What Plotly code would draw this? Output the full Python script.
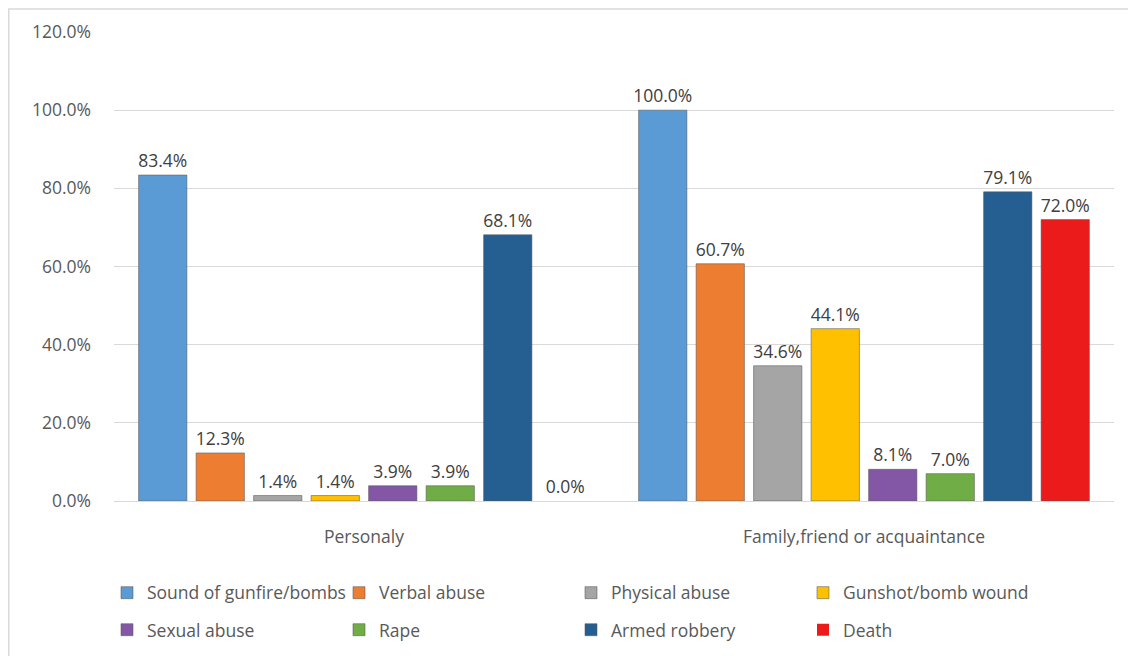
import plotly.graph_objects as go

categories = ["Personaly", "Family,friend or acquaintance"]
series_names = ["Sound of gunfire/bombs", "Verbal abuse", "Physical abuse", "Gunshot/bomb wound",
                "Sexual abuse", "Rape", "Armed robbery", "Death"]
series_values = [
    [0.834, 1.000],
    [0.123, 0.607],
    [0.014, 0.346],
    [0.014, 0.441],
    [0.039, 0.081],
    [0.039, 0.070],
    [0.681, 0.791],
    [0.000, 0.720],
]
colors = ["#5B9BD5", "#ED7D31", "#A5A5A5", "#FFC000", "#8457A6", "#70AD47", "#255E91", "#EC1B1B"]
y_ticks = [0, 0.2, 0.4, 0.6, 0.8, 1.0, 1.2]

FONT = "Open Sans"
FS = 17.5
fig = go.Figure()
for i, (name, vals, col) in enumerate(zip(series_names, series_values, colors)):
    fig.add_trace(go.Bar(
        x=categories, y=vals, name=name,
        marker=dict(color=col, line=dict(color="rgba(90,90,90,0.55)",
                                         width=[1 if v > 0 else 0 for v in vals])),
        texttemplate="%{y:.1%}", textposition="outside", cliponaxis=False,
        constraintext="none",
        textfont=dict(family=FONT, size=FS, color="#404040"),
        legend="legend" if i < 4 else "legend2",
    ))

legend_common = dict(orientation="h", entrywidth=187, entrywidthmode="pixels",
                     font=dict(family=FONT, size=FS, color="#595959"),
                     xanchor="left", yanchor="middle", bgcolor="rgba(0,0,0,0)",
                     itemclick=False, traceorder="normal")

# page is rendered with an 8px body margin; plot area spans page x 114..1114, y 32..501
W, H = 1128, 648
fig.update_layout(
    width=W, height=H,
    margin=dict(l=106, r=22, t=24, b=155, autoexpand=False),
    paper_bgcolor="white", plot_bgcolor="white",
    barmode="group", bargap=0.08, bargroupgap=0.16,
    showlegend=True,
    legend=dict(x=-0.007, y=-0.1957, **legend_common),
    legend2=dict(x=-0.007, y=-0.2747, **legend_common),
    xaxis=dict(showgrid=False, showline=False, ticks="", ticklabelstandoff=23,
               tickfont=dict(family=FONT, size=FS, color="#595959")),
    yaxis=dict(range=[0, 1.2], tickvals=y_ticks, tickformat=".1%",
               showgrid=True, gridcolor="#D9D9D9", gridwidth=1,
               zeroline=True, zerolinecolor="#D9D9D9", zerolinewidth=1,
               showline=False, ticks="", ticklabelstandoff=22,
               tickfont=dict(family=FONT, size=FS, color="#595959")),
    shapes=[dict(type="rect", xref="paper", yref="paper",
                 x0=(8.8 - 114) / 1000, x1=(1145 - 114) / 1000,
                 y0=(501 - 670) / 469, y1=(501 - 9) / 469,
                 line=dict(color="#D9D9D9", width=1.5), fillcolor="rgba(0,0,0,0)", layer="below")],
)

fig.write_html("out.html")
